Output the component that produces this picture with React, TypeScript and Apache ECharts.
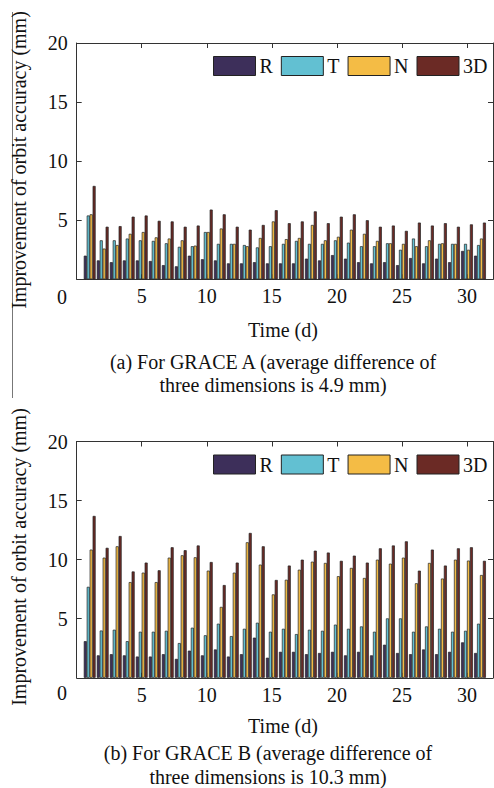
import React, { useEffect, useRef } from "react";
import * as echarts from "echarts";

const days = [1,2,3,4,5,6,7,8,9,10,11,12,13,14,15,16,17,18,19,20,21,22,23,24,25,26,27,28,29,30,31];
const seriesNames = ["R", "T", "N", "3D"];
const yTicks = [0, 5, 10, 15, 20];

// GRACE A
const rA = [2.0,1.6,1.45,1.6,1.6,1.55,1.2,1.1,2.0,1.7,1.6,1.35,1.35,1.45,1.35,1.35,1.35,1.75,1.6,2.05,1.75,1.45,1.35,1.45,1.2,1.8,1.35,1.75,1.45,2.4,2.0];
const tA = [5.4,3.3,3.3,3.45,3.3,3.25,3.05,2.75,2.8,4.0,3.0,3.0,2.9,2.7,2.8,3.0,3.25,3.0,3.0,3.3,3.1,2.8,2.8,3.05,2.5,3.45,2.8,3.0,3.0,3.0,2.9];
const nA = [5.5,2.6,2.9,3.85,4.0,3.55,3.45,3.3,2.85,4.0,4.3,3.0,2.8,3.5,4.9,3.4,3.5,4.6,3.3,3.6,4.2,3.85,3.25,3.05,3.0,2.8,3.3,3.05,3.0,2.5,3.45];
const dA = [7.9,4.45,4.5,5.3,5.4,4.95,4.9,4.45,4.55,5.9,5.5,4.45,4.2,4.6,5.85,4.75,4.9,5.75,4.75,5.3,5.5,5.0,4.45,4.55,4.1,4.8,4.55,4.75,4.45,4.65,4.8];

// GRACE B
const rB = [3.1,1.9,2.0,1.9,1.8,1.8,2.0,1.6,2.3,1.9,2.4,1.8,2.0,3.4,1.7,2.2,2.2,2.0,2.1,2.2,1.9,2.2,1.9,2.8,2.1,2.0,2.4,2.0,2.2,3.0,2.1];
const tB = [7.7,4.0,4.07,3.1,3.9,3.9,3.98,2.94,4.24,3.6,4.58,3.53,4.15,4.66,3.9,4.15,3.7,4.07,3.98,4.5,4.15,4.35,3.9,5.03,5.03,3.9,4.35,4.15,3.9,3.98,4.58];
const nB = [10.85,10.17,11.13,8.1,8.9,8.1,10.17,10.37,10.2,9.07,6.0,8.9,11.47,9.58,7.06,8.3,9.15,9.83,9.72,8.6,9.3,8.45,10.0,9.66,10.17,8.0,9.72,8.4,10.0,9.92,8.7];
const dB = [13.7,11.0,12.0,9.0,9.75,9.1,11.05,10.8,11.2,9.8,7.85,9.75,12.26,11.13,8.28,9.5,10.0,10.76,10.6,9.9,10.34,9.75,10.96,11.2,11.55,9.07,10.85,9.5,10.96,11.05,9.9];

const colors = ["#3d2f5a", "#62c0d2", "#f4bc45", "#6b2a25"];
const FONT = "Liberation Serif, Times New Roman, serif";

export default function App() {
  const ref = useRef<HTMLDivElement>(null);
  useEffect(() => {
    if (!ref.current) return;
    const chart = echarts.init(ref.current, null, { renderer: "svg" });
    const panels = [
      { top: 43, data: [rA, tA, nA, dA] },
      { top: 441.5, data: [rB, tB, nB, dB] },
    ];
    const left = 76.7;
    const width = 416.3;
    const height = 236.3;
    const axisColor = "#333";
    const grids: any[] = [];
    const xAxes: any[] = [];
    const yAxes: any[] = [];
    const series: any[] = [];
    const legends: any[] = [];
    panels.forEach((p, gi) => {
      grids.push({ left, top: p.top, width, height });
      const common = {
        gridIndex: gi,
        min: 0,
        splitLine: { show: false },
        axisLine: { show: true, onZero: false, lineStyle: { color: axisColor, width: 1 } },
        axisTick: { show: true, inside: true, length: 5, lineStyle: { color: axisColor } },
      };
      xAxes.push({
        ...common,
        type: "value",
        position: "bottom",
        max: 32,
        interval: 5,
        axisLabel: {
          show: true,
          showMinLabel: false,
          showMaxLabel: false,
          margin: 7,
          color: "#111",
          fontFamily: FONT,
          fontSize: 20,
        },
      });
      xAxes.push({
        ...common,
        type: "value",
        position: "top",
        max: 32,
        interval: 5,
        axisLabel: { show: false },
      });
      yAxes.push({
        ...common,
        type: "value",
        position: "left",
        max: 20,
        interval: 5,
        axisLabel: {
          show: true,
          showMinLabel: false,
          margin: 9,
          color: "#111",
          fontFamily: FONT,
          fontSize: 20,
        },
      });
      yAxes.push({
        ...common,
        type: "value",
        position: "right",
        max: 20,
        interval: 5,
        axisLabel: { show: false },
      });
      p.data.forEach((vals, si) => {
        series.push({
          type: "bar",
          name: seriesNames[si],
          xAxisIndex: gi * 2,
          yAxisIndex: gi * 2,
          barWidth: 3,
          barGap: "-2%",
          itemStyle: { color: colors[si], borderColor: "#222", borderWidth: 0.7 },
          data: days.map((d, i) => [d, vals[i]]),
        });
      });
      legends.push({
        left: 213,
        top: p.top + 13,
        width: 300,
        orient: "horizontal",
        itemWidth: 42,
        itemHeight: 19,
        itemGap: 8,
        icon: "rect",
        padding: 0,
        data: seriesNames.map((n, i) => ({
          name: n,
          itemStyle: { color: colors[i], borderColor: "#222", borderWidth: 1 },
        })),
        textStyle: { fontFamily: FONT, fontSize: 20, color: "#111", padding: [0, 0, 0, -1] },
        selectedMode: false,
      });
    });

    const txt = (x: number, y: number, text: string, extra: any = {}) => ({
      type: "text",
      x,
      y,
      style: {
        text,
        fill: "#111",
        font: `20px ${FONT}`,
        textAlign: "center",
        textVerticalAlign: "middle",
        ...extra,
      },
    });

    const graphics: any[] = [
      { type: "line", shape: { x1: 12.5, y1: 12, x2: 12.5, y2: 398 }, style: { stroke: "#777", lineWidth: 1 } },
      { ...txt(19, 160, "Improvement of orbit accuracy (mm)"), rotation: Math.PI / 2 },
      { ...txt(19, 557, "Improvement of orbit accuracy (mm)"), rotation: Math.PI / 2 },
      txt(62, 296.7, String(yTicks[0])),
      txt(62, 692.7, String(yTicks[0])),
      txt(283, 330, "Time (d)"),
      txt(283, 726, "Time (d)"),
      txt(273, 361.7, "(a) For GRACE A (average difference of"),
      txt(273, 385, "three dimensions is 4.9 mm)"),
      txt(268, 753, "(b) For GRACE B (average difference of"),
      txt(268, 776.7, "three dimensions is 10.3 mm)"),
    ];

    chart.setOption({
      animation: false,
      backgroundColor: "#fff",
      grid: grids,
      xAxis: xAxes,
      yAxis: yAxes,
      legend: legends,
      series,
      graphic: graphics,
    });
    return () => chart.dispose();
  }, []);
  return (
    <div
      ref={ref}
      style={{ position: "fixed", left: 0, top: 0, width: 494, height: 788 }}
    />
  );
}
